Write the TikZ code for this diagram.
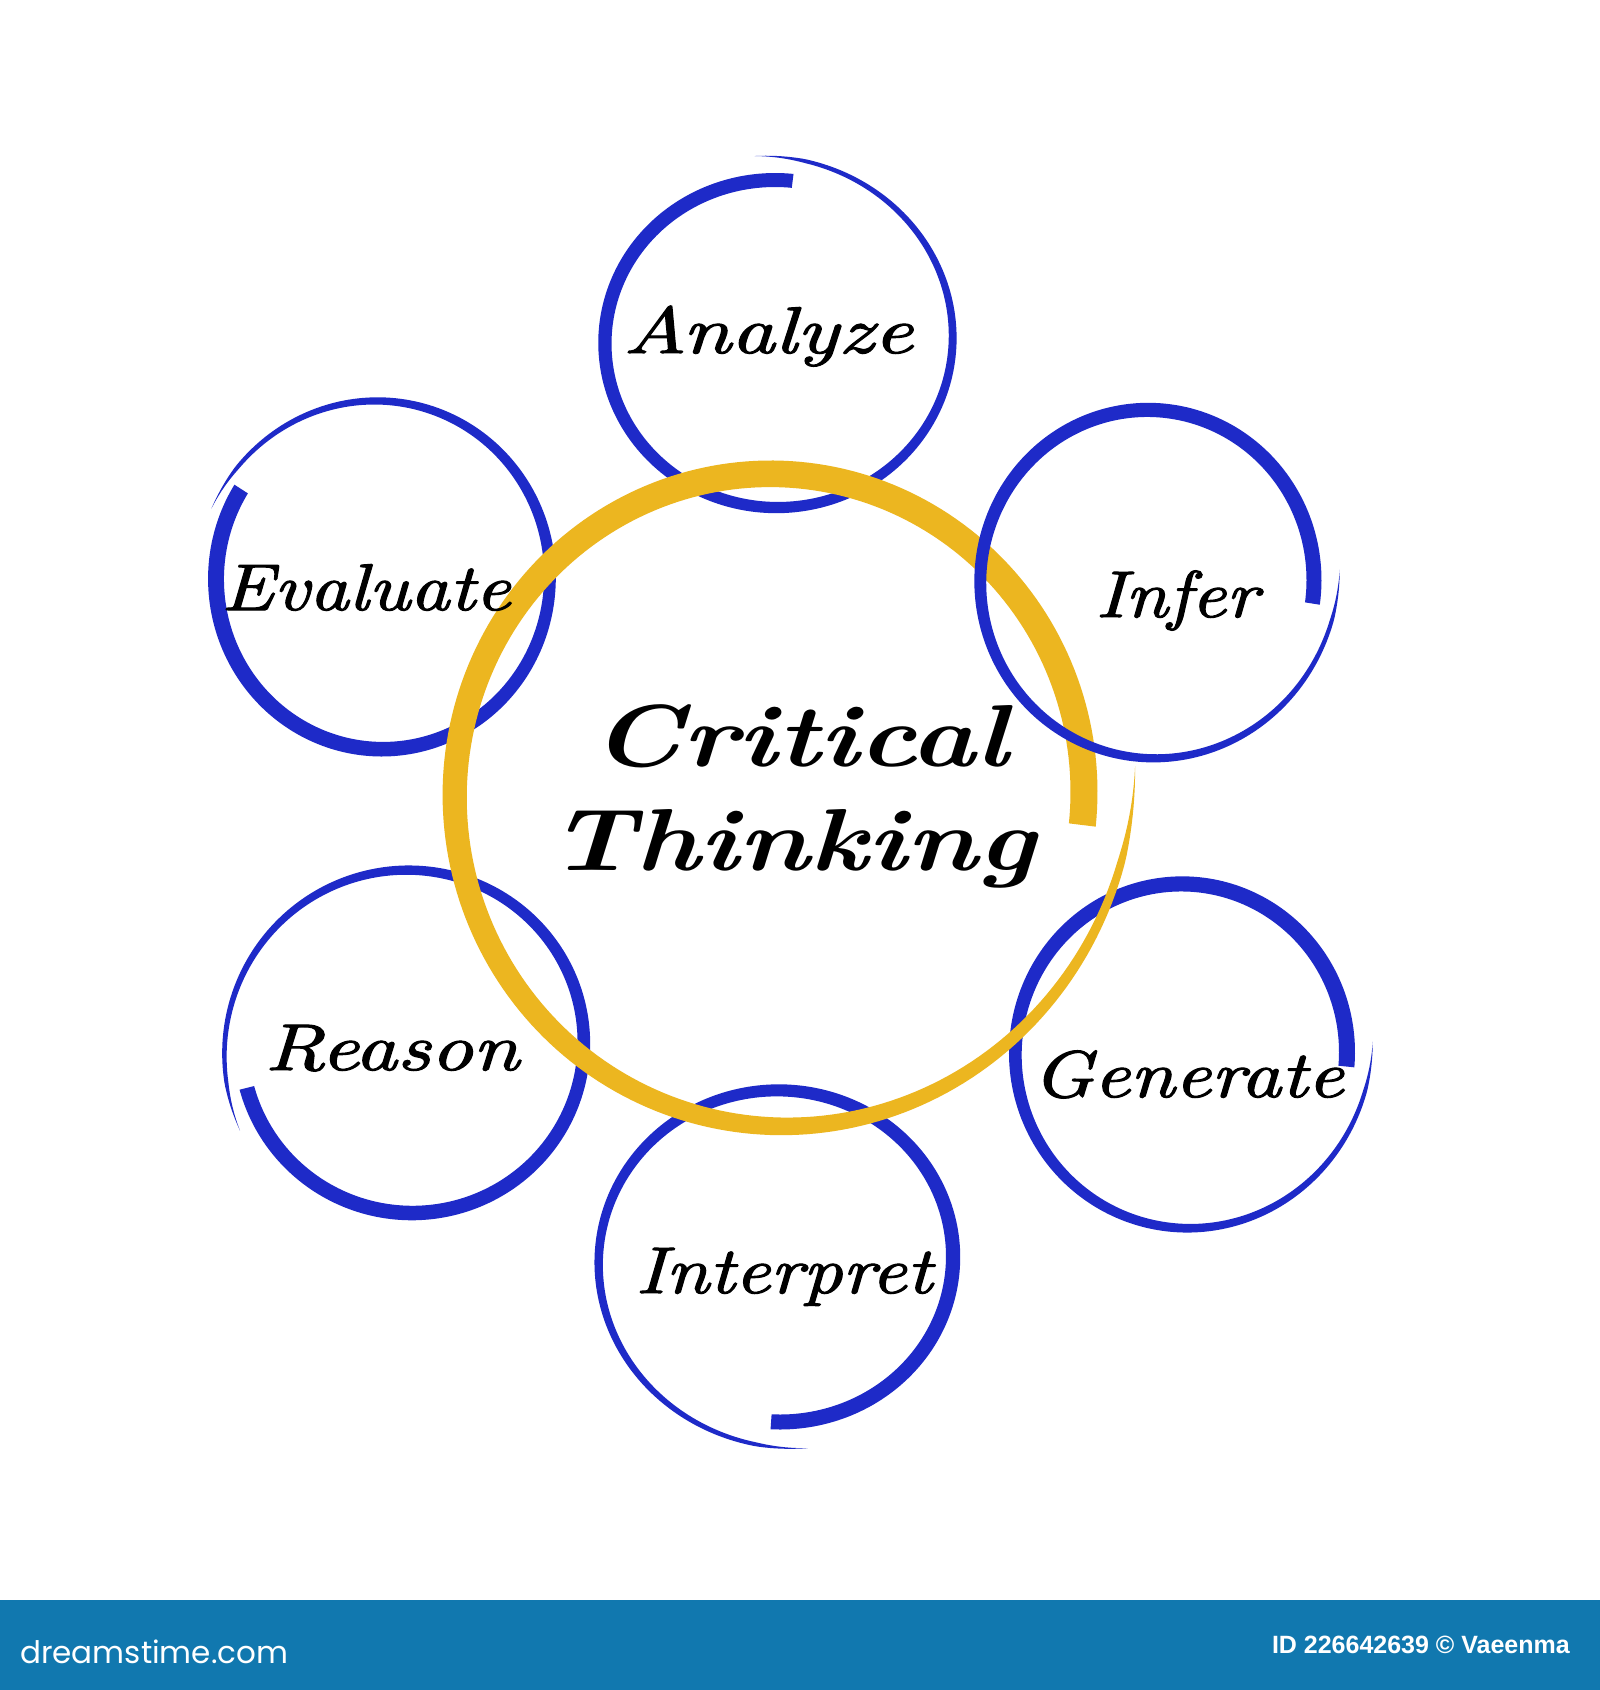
\documentclass[tikz,border=0pt]{standalone}
\usepackage{fontspec}
\usepackage{graphicx}
\newfontfamily\barfont{Liberation Sans}
\newfontfamily\logofont{Poppins}
\newfontfamily\handfont{lmroman10-italic.otf}[FakeBold=1.6]
\definecolor{ringblue}{RGB}{30,42,200}
\definecolor{ringgold}{RGB}{236,182,32}
\definecolor{barblue}{RGB}{17,120,175}
\pgfkeys{/brush/.cd,
  cx/.store in=\bcx, cy/.store in=\bcy, rx/.store in=\brx, ry/.store in=\bry,
  a/.store in=\ba, sw/.store in=\bsw, dr/.store in=\bdr,
  w0/.store in=\bwa, w1/.store in=\bwb, q/.store in=\bq, q=1}
\newcommand\brushring[2]{%
  \begin{scope}
  \pgfkeys{/brush/.cd,#2}%
  \fill[#1] plot[variable=\s, domain=0:1, samples=241]
    ({\bcx+(\brx+\bdr*\s^4+0.5*(\bwa+(\bwb-\bwa)*\s^\bq)*min(1,25*(1-\s)))*cos(\ba+\bsw*\s)},
     {\bcy-(\bry+\bdr*\s^4+0.5*(\bwa+(\bwb-\bwa)*\s^\bq)*min(1,25*(1-\s)))*sin(\ba+\bsw*\s)})
    -- plot[variable=\s, domain=1:0, samples=241]
    ({\bcx+(\brx+\bdr*\s^4-0.5*(\bwa+(\bwb-\bwa)*\s^\bq)*min(1,25*(1-\s)))*cos(\ba+\bsw*\s)},
     {\bcy-(\bry+\bdr*\s^4-0.5*(\bwa+(\bwb-\bwa)*\s^\bq)*min(1,25*(1-\s)))*sin(\ba+\bsw*\s)})
    -- cycle;
  \end{scope}}
\tikzset{
  lbl/.style={anchor=base, inner sep=0pt, text=black, font=\handfont\fontsize{66}{66}\selectfont},
  ttl/.style={anchor=base, inner sep=0pt, text=black, font=\fontsize{88}{88}\selectfont\bfseries\itshape},
  bluering/.style={fill=ringblue},
  goldring/.style={fill=ringgold}
}
\begin{document}
\begin{tikzpicture}[x=1pt, y=-1pt]
\useasboundingbox (0,0) rectangle (1600,1690);
\fill[white] (0,0) rectangle (1600,1690);

% blue rings (below the gold one)
\brushring{bluering}{cx=775, cy=343, rx=170, ry=163, a=84, sw=372, dr=25, w0=14, w1=3, q=2}
\brushring{bluering}{cx=382, cy=579, rx=166, ry=170, a=148, sw=370, dr=18, w0=16, w1=3, q=2}
\brushring{bluering}{cx=780, cy=1257, rx=173, ry=165, a=-93, sw=371, dr=28, w0=15, w1=3, q=2}
\brushring{bluering}{cx=412, cy=1044, rx=171, ry=169, a=195, sw=372, dr=22, w0=15, w1=3, q=2}
\brushring{bluering}{cx=1182, cy=1052, rx=165, ry=168, a=-5, sw=368, dr=26, w0=16, w1=3, q=2}

% gold ring
\brushring{goldring}{cx=771, cy=792, rx=313, ry=318, a=-6, sw=370, dr=52, w0=27, w1=5, q=3}

% blue ring drawn over the gold one
\brushring{bluering}{cx=1148, cy=580, rx=166, ry=170, a=-8, sw=371, dr=26, w0=15, w1=3, q=2}

% labels
\node[lbl] (analyze) at (768,353) {\scalebox{1.3}[1]{Analyze}};
\node[lbl] (evaluate) at (366,610) {\scalebox{1.17}[1]{Evaluate}};
\node[lbl] (infer) at (1177,617) {\scalebox{1.15}[1]{Infer}};
\node[lbl] (reason) at (392,1070) {\scalebox{1.25}[1]{Reason}};
\node[lbl] (generate) at (1188,1097) {\scalebox{1.2}[1]{Generate}};
\node[lbl] (interpret) at (784,1293) {\scalebox{1.17}[1]{Interpret}};

\node[ttl] (crit) at (800,766) {\scalebox{1.25}[1]{Critical}};
\node[ttl] (think) at (792,870) {\scalebox{1.24}[1]{Thinking}};

% bottom bar
\fill[barblue] (0,1600) rectangle (1600,1690);
\node[anchor=base west, inner sep=0pt, text=white, font=\logofont\fontsize{31}{31}\selectfont] (logo) at (20,1663) {dreamstime.com};
\node[anchor=base east, inner sep=0pt, text=white, font=\barfont\bfseries\fontsize{25}{25}\selectfont] (id) at (1570,1653) {ID 226642639 © Vaeenma};
\end{tikzpicture}
\end{document}
